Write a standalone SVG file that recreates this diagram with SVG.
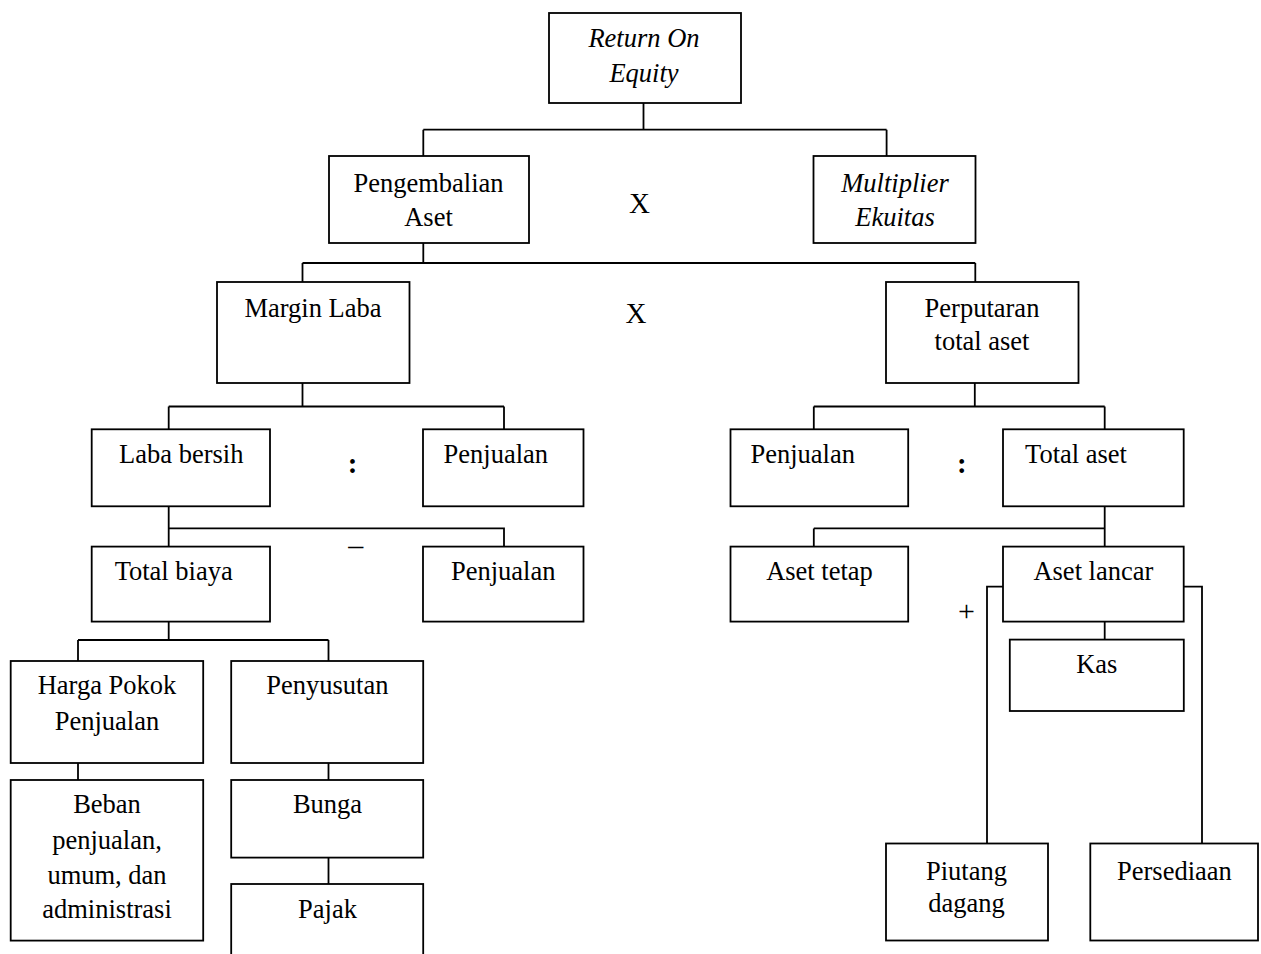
<svg xmlns="http://www.w3.org/2000/svg" width="1261" height="954" viewBox="0 0 1261 954">
<style>
rect{fill:#fff;stroke:#000;stroke-width:1.8}
.c path{fill:none;stroke:#000;stroke-width:1.8}
text{font-family:"Liberation Serif","Times New Roman",serif;font-size:26.5px;fill:#000;text-anchor:middle}
.i{font-style:italic}
.op{font-size:29px}
.b{font-weight:bold;font-size:29px}
</style>
<rect x="0" y="0" width="1261" height="954" style="fill:#fff;stroke:none"/>
<g class="c" id="connectors">
<path d="M643.5 103 V129.7 M423.3 129.7 H886.6 M423.3 129.7 V156 M886.6 129.7 V156"/>
<path d="M423.3 243 V263 M302.5 263 H975.3 M302.5 263 V282 M975.3 263 V282"/>
<path d="M302.5 383 V406.5 M168.7 406.5 H504 M168.7 406.5 V429.3 M504 406.5 V429.3"/>
<path d="M974.8 383 V406.5 M813.8 406.5 H1104.7 M813.8 406.5 V429.3 M1104.7 406.5 V429.3"/>
<path d="M168.7 506.3 V546.6 M168.7 528.4 H504 V546.6"/>
<path d="M1104.7 506.3 V546.6 M813.8 528.4 H1104.7 M813.8 528.4 V546.6"/>
<path d="M168.7 621.6 V640 M78 640 H328.5 M78 640 V661 M328.5 640 V661"/>
<path d="M78 763 V780"/>
<path d="M328.5 763 V780 M328.5 857.6 V884"/>
<path d="M1104.7 621.6 V639.6"/>
<path d="M1003 586.6 H987 V843.5 M1183.7 586.6 H1202 V843.5"/>
</g>
<g id="roe"><rect x="549" y="13" width="192" height="90"/><text class="i" x="644" y="47">Return On</text><text class="i" x="644" y="82">Equity</text></g>
<g id="pengembalian-aset"><rect x="329" y="156" width="200" height="87"/><text x="428.5" y="192">Pengembalian</text><text x="428.5" y="226">Aset</text></g>
<g id="op-x1"><text class="op" x="639.6" y="213">X</text></g>
<g id="multiplier-ekuitas"><rect x="813.5" y="156" width="162" height="87"/><text class="i" x="895" y="192">Multiplier</text><text class="i" x="895" y="226">Ekuitas</text></g>
<g id="margin-laba"><rect x="217" y="282" width="192.5" height="101"/><text x="313" y="317">Margin Laba</text></g>
<g id="op-x2"><text class="op" x="636" y="323">X</text></g>
<g id="perputaran"><rect x="886" y="282" width="192.5" height="101"/><text x="982" y="317">Perputaran</text><text x="982" y="350">total aset</text></g>
<g id="laba-bersih"><rect x="91.7" y="429.3" width="178.3" height="77"/><text x="181.3" y="462.5">Laba bersih</text></g>
<g id="op-div1"><text class="b" x="352.7" y="473">:</text></g>
<g id="penjualan-1"><rect x="423" y="429.3" width="160.5" height="77"/><text x="495.8" y="462.5">Penjualan</text></g>
<g id="penjualan-r"><rect x="730.5" y="429.3" width="177.7" height="77"/><text x="802.7" y="462.5">Penjualan</text></g>
<g id="op-div2"><text class="b" x="961.9" y="473">:</text></g>
<g id="total-aset"><rect x="1003" y="429.3" width="180.7" height="77"/><text x="1076" y="462.5">Total aset</text></g>
<g id="total-biaya"><rect x="91.7" y="546.6" width="178.3" height="75"/><text x="173.7" y="580">Total biaya</text></g>
<g id="op-minus"><text x="355.7" y="554.5" style="font-size:30px">–</text></g>
<g id="penjualan-2"><rect x="423" y="546.6" width="160.5" height="75"/><text x="503.2" y="580">Penjualan</text></g>
<g id="aset-tetap"><rect x="730.5" y="546.6" width="177.7" height="75"/><text x="819.5" y="580">Aset tetap</text></g>
<g id="aset-lancar"><rect x="1003" y="546.6" width="180.7" height="75"/><text x="1093.4" y="580">Aset lancar</text></g>
<g id="op-plus"><text x="966.5" y="620.5" style="font-size:30px">+</text></g>
<g id="harga-pokok"><rect x="10.7" y="661" width="192.5" height="102"/><text x="107" y="694.3">Harga Pokok</text><text x="107" y="729.7">Penjualan</text></g>
<g id="penyusutan"><rect x="231.2" y="661" width="192" height="102"/><text x="327.3" y="694.3">Penyusutan</text></g>
<g id="beban"><rect x="10.7" y="780" width="192.5" height="160.6"/><text x="107" y="813.4">Beban</text><text x="107" y="848.8">penjualan,</text><text x="107" y="884">umum, dan</text><text x="107" y="917.7">administrasi</text></g>
<g id="bunga"><rect x="231.2" y="780" width="192" height="77.6"/><text x="327.5" y="813.4">Bunga</text></g>
<g id="pajak"><rect x="231.2" y="884" width="192" height="90"/><text x="327.5" y="917.7">Pajak</text></g>
<g id="kas"><rect x="1009.8" y="639.6" width="174" height="71.4"/><text x="1096.8" y="673">Kas</text></g>
<g id="piutang"><rect x="886" y="843.5" width="162" height="97"/><text x="966.5" y="879.5">Piutang</text><text x="966.5" y="912.4">dagang</text></g>
<g id="persediaan"><rect x="1090.3" y="843.5" width="167.7" height="97"/><text x="1174.4" y="879.5">Persediaan</text></g>
</svg>
